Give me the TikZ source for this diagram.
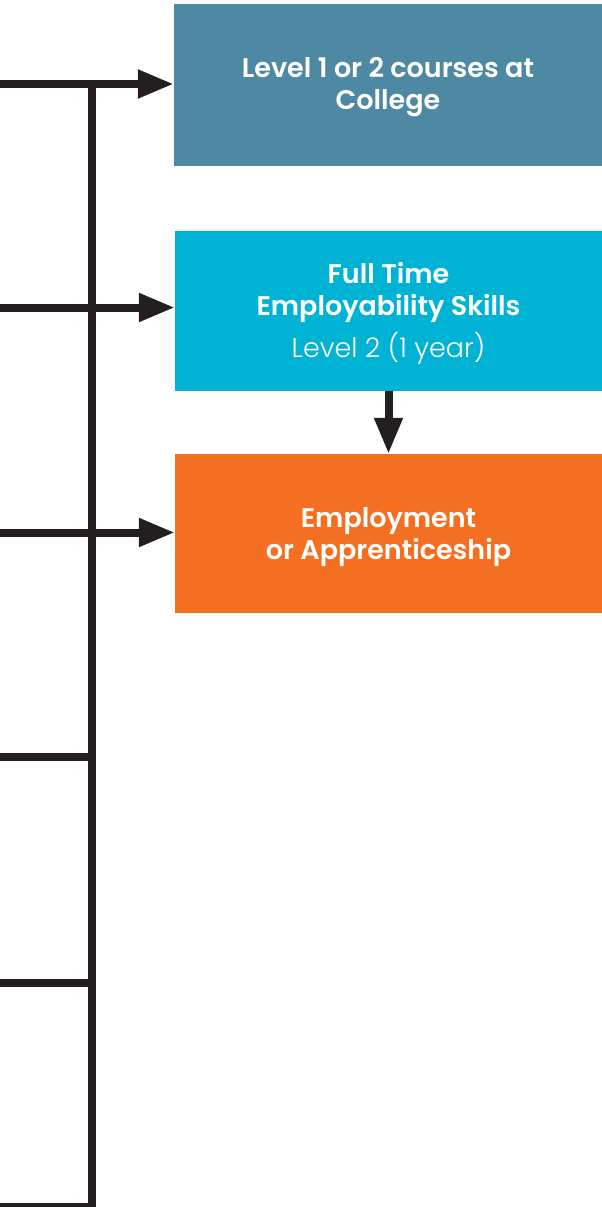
\documentclass[tikz,border=0pt]{standalone}
\usepackage{fontspec}
\setmainfont{Poppins}[BoldFont={Poppins SemiBold}]
\newfontfamily\poplight{Poppins Light}
\usetikzlibrary{arrows.meta}
\definecolor{linedark}{HTML}{231F20}
\definecolor{boxteal}{HTML}{4E89A4}
\definecolor{boxcyan}{HTML}{00B3D5}
\definecolor{boxorange}{HTML}{F46F22}
\tikzset{
  flowbox/.style={rectangle, draw=none, inner sep=0pt, text=white, align=center,
    font=\fontsize{27}{32}\selectfont\bfseries},
  trunk/.style={draw=linedark, line width=8pt, line join=miter},
  feed/.style={draw=linedark, line width=8pt, -{Triangle[length=36pt,width=27pt]}},
}
\begin{document}
\begin{tikzpicture}[x=1pt,y=-1pt]
\useasboundingbox (0,0) rectangle (602,1207);
\node[flowbox, fill=boxteal, minimum width=428pt, minimum height=162pt] (b1) at (388,85)
  {\rule{0pt}{24pt}Level 1 or 2 courses at\\College};
\node[flowbox, fill=boxcyan, minimum width=427pt, minimum height=160pt] (b2) at (388.5,311)
  {\rule{0pt}{26pt}Full Time\\Employability Skills\\[8pt]{\poplight\mdseries Level 2 (1 year)}};
\node[flowbox, fill=boxorange, minimum width=427pt, minimum height=159pt] (b3) at (388.5,533.5)
  {\rule{0pt}{28pt}Employment\\or Apprenticeship};
\coordinate (r1) at (0,84);
\coordinate (r2) at (0,307.5);
\coordinate (r3) at (0,532.5);
\coordinate (r4) at (0,756.5);
\coordinate (r5) at (0,982.5);
\coordinate (r6) at (0,1207);
\coordinate (tt) at (92,80);
\coordinate (tb) at (92,1207);
\draw[trunk] (r6) -- (tb) -- (tt);
\draw[trunk] (r4) -- (r4 -| tb);
\draw[trunk] (r5) -- (r5 -| tb);
\draw[feed] (r1) -- (r1 -| b1.west);
\draw[feed] (r2) -- (r2 -| b2.west);
\draw[feed] (r3) -- (r3 -| b3.west);
\draw[feed] (b2.south) -- (b3.north);
\end{tikzpicture}
\end{document}
